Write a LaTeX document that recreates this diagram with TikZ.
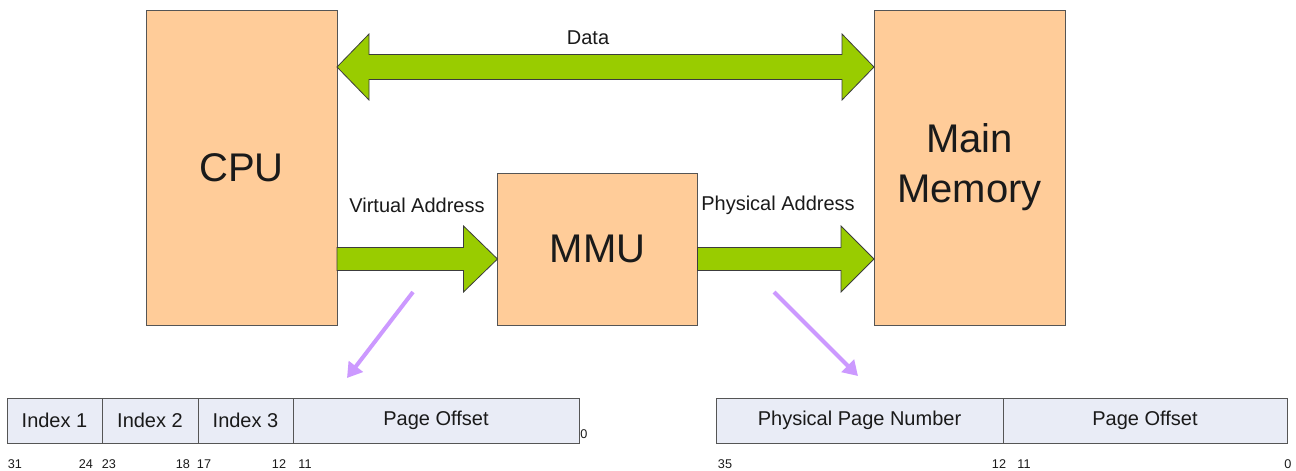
\documentclass[tikz,border=0pt]{standalone}
\usepackage{fontspec}
\setmainfont{Liberation Sans}
\usetikzlibrary{calc,arrows.meta}
\definecolor{boxfill}{HTML}{FFCC99}
\definecolor{busgreen}{HTML}{99CC00}
\definecolor{regfill}{HTML}{E9ECF6}
\definecolor{pointer}{HTML}{CC99FF}
\definecolor{edge}{HTML}{555555}
\definecolor{ink}{HTML}{1A1A1A}
\tikzset{
  unit/.style={draw=edge, fill=boxfill, line width=0.75pt, text=ink,
    font=\fontsize{30}{37.5}\selectfont, align=center, inner sep=0pt, outer sep=0pt},
  bus/.style={draw=edge!70!black, fill=busgreen, line width=0.6pt, line join=miter},
  field/.style={draw=edge, fill=regfill, line width=0.75pt, text=ink,
    minimum height=33.75pt, inner sep=0pt, outer sep=0pt, font=\fontsize{15}{18}\selectfont},
  bitno/.style={text=ink, font=\fontsize{9.5}{10}\selectfont, inner sep=0pt},
  lbl/.style={text=ink, font=\fontsize{15}{18}\selectfont, inner sep=0pt},
  hint/.style={draw=pointer, line width=3pt, -{Triangle[length=11pt,width=13pt]}}
}
\begin{document}
\begin{tikzpicture}[x=0.75pt,y=-0.75pt]
      \useasboundingbox[fill=white] (0,0) rectangle (1296,471);
      % the three units
      \node[unit, minimum width=143.25pt, minimum height=236.25pt] (cpu) at (241.5,167.5) {CPU};
      \node[unit, minimum width=150pt, minimum height=114pt] (mmu) at (597.5,249) {MMU};
      \node[unit, minimum width=143.25pt, minimum height=236.25pt] (mem) at (969.5,167.5) {Main\\Memory};
      % bus ends
      \coordinate (data-l) at (cpu.east |- 0,67);
      \coordinate (data-r) at (mem.west |- 0,67);
      \coordinate (va-l) at (cpu.east |- 0,259);
      \coordinate (va-r) at (mmu.west |- va-l);
      \coordinate (pa-l) at (mmu.east |- va-l);
      \coordinate (pa-r) at (mem.west |- va-l);
      % data bus
      \filldraw[bus] (data-l) -- ($(data-l)+(32,-33)$) -- ($(data-l)+(32,-12.5)$)
        -- ($(data-r)+(-32,-12.5)$) -- ($(data-r)+(-32,-33)$) -- (data-r)
        -- ($(data-r)+(-32,33)$) -- ($(data-r)+(-32,12.5)$)
        -- ($(data-l)+(32,12.5)$) -- ($(data-l)+(32,33)$) -- cycle;
      % address buses
      \filldraw[bus] ($(va-l)+(0,-11.5)$) -- ($(va-r)+(-34,-11.5)$) -- ($(va-r)+(-34,-33)$)
        -- (va-r) -- ($(va-r)+(-34,33)$) -- ($(va-r)+(-34,11.5)$) -- ($(va-l)+(0,11.5)$) -- cycle;
      \filldraw[bus] ($(pa-l)+(0,-11.5)$) -- ($(pa-r)+(-33,-11.5)$) -- ($(pa-r)+(-33,-33)$)
        -- (pa-r) -- ($(pa-r)+(-33,33)$) -- ($(pa-r)+(-33,11.5)$) -- ($(pa-l)+(0,11.5)$) -- cycle;
      \node[lbl] (data) at (588,38) {Data};
      \node[lbl] (vaddr) at (417,205) {Virtual Address};
      \node[lbl] (paddr) at (778,205) {Physical Address};
      % virtual address layout
      \node[field, minimum width=71.25pt] (idx1) at (54.5,420.5) {Index 1};
      \node[field, minimum width=72pt, anchor=west] (idx2) at (idx1.east) {Index 2};
      \node[field, minimum width=71.25pt, anchor=west] (idx3) at (idx2.east) {Index 3};
      \node[field, minimum width=214.5pt, anchor=west] (voff) at (idx3.east) {Page Offset};
      \node[bitno, anchor=west] (v0) at ($(voff.east)+(1,14)$) {0};
      \node[bitno] (v31) at (15,464) {31};
      \node[bitno] (v24) at (86,464) {24};
      \node[bitno] (v23) at (109,464) {23};
      \node[bitno] (v18) at (183,464) {18};
      \node[bitno] (v17) at (204,464) {17};
      \node[bitno] (v12) at (279,464) {12};
      \node[bitno] (v11) at (305,464) {11};
      % physical address layout
      \node[field, minimum width=215.25pt] (ppn) at (859.5,420.5) {Physical Page Number};
      \node[field, minimum width=213pt, anchor=west] (poff) at (ppn.east) {Page Offset};
      \node[bitno] (p35) at (725,464) {35};
      \node[bitno] (p12) at (999,464) {12};
      \node[bitno] (p11) at (1024,464) {11};
      \node[bitno] (p0) at (1288,464) {0};
      % pointers
      \coordinate (vp-a) at (413,292);
      \coordinate (vp-b) at (347,378);
      \coordinate (pp-a) at (774,292);
      \coordinate (pp-b) at (858,376);
      \draw[hint] (vp-a) -- (vp-b);
      \draw[hint] (pp-a) -- (pp-b);
    \end{tikzpicture}
\end{document}
